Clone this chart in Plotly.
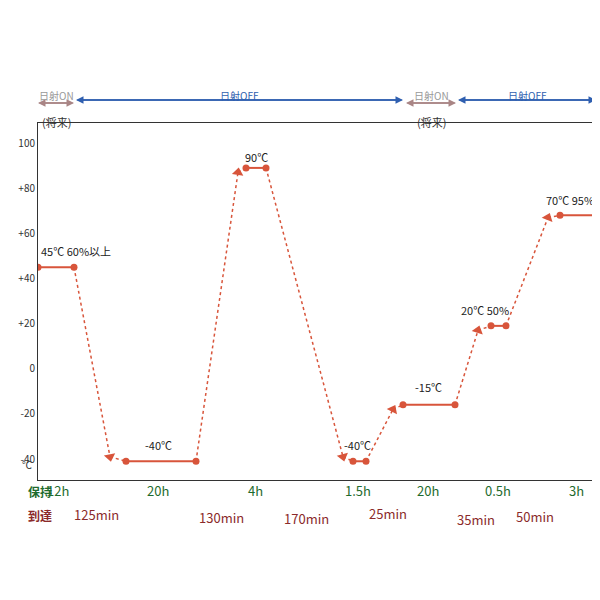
import plotly.graph_objects as go
import math

# hold segments (x in timeline units, y in °C)
hold_x = [(30, 66), (118, 188), (238, 258), (345, 358), (395, 447), (483, 498), (552, 588)]
hold_y = [45, -41, 89, -41, -16, 19, 68]
hold_labels = ["45℃ 60%以上", "-40℃", "90℃", "-40℃", "-15℃", "20℃ 50%", "70℃ 95%"]
label_pos = [(68, 52), (150, -34), (248, 94), (349, -34), (420, -8), (477, 26), (562, 75)]
# transition arrow endpoints
arrow_end = [(102, -39), (230, 87), (335, -39), (385, -18), (470, 17), (540, 67)]
hold_times = ["12h", "20h", "4h", "1.5h", "20h", "0.5h", "3h"]
hold_time_x = [50, 150, 247, 350, 420, 490, 568]
reach_times = ["125min", "130min", "170min", "25min", "35min", "50min"]
reach_time_x = [88, 213, 298, 380, 468, 527]
reach_time_y = [518, 521, 522, 517, 523, 520]
yticks = [100, 80, 60, 40, 20, 0, -20, -40]
ytick_text = ["100", "+80", "+60", "+40", "+20", "0", "-20", "-40"]

RED = "#d8553b"
fig = go.Figure()
X0, X1, Y0, Y1 = 30, 590, -49.3, 108.9
W, H = 560, 357

for i, (xs, y) in enumerate(zip(hold_x, hold_y)):
    fig.add_trace(go.Scatter(x=list(xs), y=[y, y], mode="lines+markers",
                             line=dict(color=RED, width=2), marker=dict(color=RED, size=7)))
for i, (ex, ey) in enumerate(arrow_end):
    sx, sy = hold_x[i][1], hold_y[i]
    dxp = (ex - sx) / (X1 - X0) * W
    dyp = (ey - sy) / (Y1 - Y0) * H
    ang = math.degrees(math.atan2(dxp, dyp))
    fig.add_trace(go.Scatter(x=[sx, ex], y=[sy, ey], mode="lines", line=dict(color=RED, width=1.5, dash="dot")))
    fig.add_trace(go.Scatter(x=[ex], y=[ey], mode="markers",
                             marker=dict(symbol="triangle-up", color=RED, size=10, angle=ang)))
    nx, ny = hold_x[i + 1][0], hold_y[i + 1]
    fig.add_trace(go.Scatter(x=[ex, nx], y=[ey, ny], mode="lines", line=dict(color=RED, width=1.5, dash="dot")))

ann = []
for t, (x, y) in zip(hold_labels, label_pos):
    ann.append(dict(x=x, y=y, text=t, showarrow=False, font=dict(size=11, color="#222")))
def py(p):
    return (472 - p) / 357
def pxp(x):
    return (x - 30) / 560
ann.append(dict(x=pxp(12), y=py(466), xref="paper", yref="paper", text="℃", showarrow=False, font=dict(size=10, color="#333")))
ann.append(dict(x=pxp(18), y=py(494), xref="paper", yref="paper", text="<b>保持</b>", showarrow=False, font=dict(size=12, color="#1e6b2d")))
ann.append(dict(x=pxp(18), y=py(518), xref="paper", yref="paper", text="<b>到達</b>", showarrow=False, font=dict(size=12, color="#8b2a2a")))
for t, x in zip(hold_times, hold_time_x):
    ann.append(dict(x=x, y=py(494), xref="x", yref="paper", text=t, showarrow=False, font=dict(size=13, color="#1e6b2d")))
for t, x, y in zip(reach_times, reach_time_x, reach_time_y):
    ann.append(dict(x=x, y=py(y), xref="x", yref="paper", text=t, showarrow=False, font=dict(size=13, color="#8b2a2a")))

MAUVE = "#a98585"; BLUE = "#2f5fb0"
segs = [(30, 66, "日射ON", MAUVE, 95), (68, 395, "日射OFF", BLUE, 92), (398, 448, "日射ON", MAUVE, 95), (450, 588, "日射OFF", BLUE, 92)]
for a, b, t, c, yy in segs:
    for s, e in [(a, b), (b, a)]:
        ann.append(dict(x=e, y=py(yy), ax=s, ay=py(yy), xref="x", yref="y domain", axref="x", ayref="y domain",
                        text="", showarrow=True, arrowhead=2, arrowsize=1, arrowwidth=1.5, arrowcolor=c))
    ann.append(dict(x=(a + b) / 2, y=py(78), xref="x", yref="paper", text=t, showarrow=False,
                    font=dict(size=10, color=c if c == BLUE else "#999")))
    if c == MAUVE:
        ann.append(dict(x=(a + b) / 2, y=py(104), xref="x", yref="paper", text="(将来)", showarrow=False,
                        font=dict(size=11, color="#333")))

fig.update_layout(width=600, height=600, margin=dict(l=30, r=10, t=115, b=128),
                  paper_bgcolor="white", plot_bgcolor="white", showlegend=False,
                  font=dict(family="Noto Sans CJK JP"), annotations=ann)
fig.update_xaxes(range=[X0, X1], showticklabels=False, showgrid=False, zeroline=False,
                 showline=True, mirror=True, linecolor="#333", linewidth=1)
fig.update_yaxes(range=[Y0, Y1], tickvals=yticks, ticktext=ytick_text, showgrid=False, zeroline=False,
                 showline=True, mirror=True, linecolor="#333", linewidth=1, ticks="",
                 tickfont=dict(size=10, color="#333"))
fig.write_html("out.html")
